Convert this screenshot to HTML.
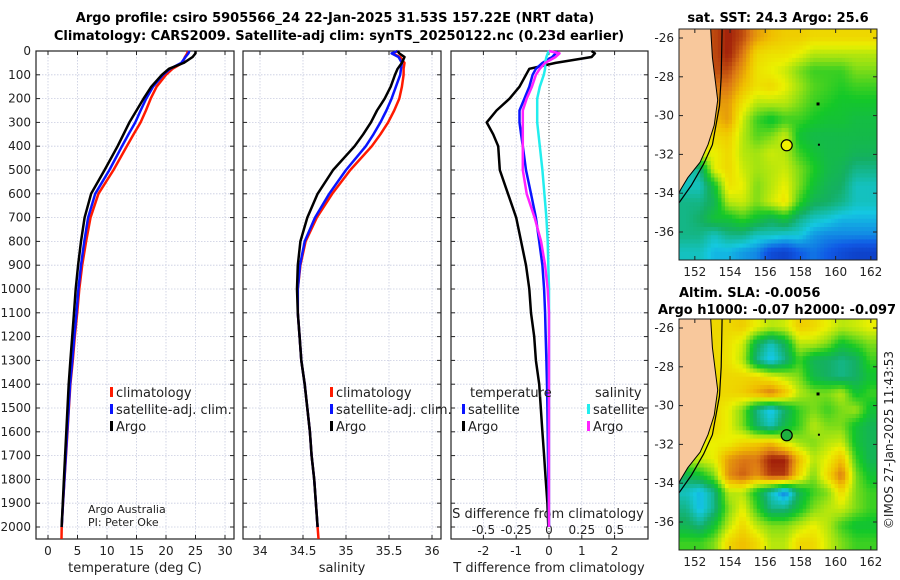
<!DOCTYPE html>
<html><head><meta charset="utf-8"><style>
html,body{margin:0;padding:0;background:#fff;}
svg{display:block;font-family:"DejaVu Sans","Liberation Sans",sans-serif;}
</style></head><body>
<svg id="fig" width="900" height="580" viewBox="0 0 900 580" xmlns="http://www.w3.org/2000/svg">
<text x="335" y="22" font-size="13" font-weight="bold" text-anchor="middle">Argo profile: csiro 5905566_24 22-Jan-2025 31.53S 157.22E (NRT data)</text>
<text x="339" y="40" font-size="13" font-weight="bold" text-anchor="middle">Climatology: CARS2009. Satellite-adj clim: synTS_20250122.nc (0.23d earlier)</text>
<text x="778" y="22" font-size="13" font-weight="bold" text-anchor="middle">sat. SST: 24.3 Argo: 25.6</text>
<text x="679" y="297" font-size="13" font-weight="bold">Altim. SLA: -0.0056</text>
<text x="658" y="314" font-size="13" font-weight="bold">Argo h1000: -0.07 h2000: -0.097</text>
<text transform="translate(893,440) rotate(-90)" font-size="12" text-anchor="middle" fill="#222">©IMOS 27-Jan-2025 11:43:53</text>
<g id="layer"></g>
</svg>
<script>
// ---------- profile data ----------
const depths = [0,10,25,50,75,100,150,200,250,300,350,400,500,600,700,800,900,1000,1100,1200,1300,1400,1500,1600,1700,1800,1900,2000];
const climDepths = [0,10,25,50,75,100,150,200,250,300,350,400,500,600,700,800,900,1000,1100,1200,1300,1400,1500,1600,1700,1800,1900,2000,2050];
const argoT = [25.0,25.0,24.5,23.0,20.5,19.3,17.5,16.2,15.0,13.8,12.8,11.8,9.6,7.3,6.2,5.6,5.1,4.7,4.4,4.1,3.8,3.5,3.3,3.1,2.9,2.7,2.5,2.3];
const climT = [23.7,23.6,23.2,22.8,21.1,20.0,18.4,17.4,16.6,15.7,14.5,13.35,11.1,8.55,7.2,6.45,5.8,5.3,4.95,4.55,4.2,3.8,3.55,3.3,3.05,2.8,2.55,2.32,2.28];
const satT = [23.95,23.8,23.3,22.6,20.7,19.5,17.8,16.65,15.7,14.8,13.65,12.55,10.4,8.0,6.8,6.15,5.6,5.15,4.83,4.45,4.12,3.74,3.5,3.26,3.02,2.78,2.54,2.32];
const argoS = [35.6,35.62,35.68,35.65,35.6,35.57,35.52,35.45,35.36,35.29,35.2,35.1,34.85,34.67,34.55,34.47,34.44,34.43,34.44,34.46,34.48,34.52,34.55,34.58,34.6,34.63,34.65,34.67];
const climS = [35.6,35.54,35.63,35.68,35.67,35.67,35.65,35.62,35.56,35.49,35.4,35.3,35.05,34.84,34.66,34.53,34.47,34.44,34.44,34.46,34.48,34.52,34.55,34.58,34.6,34.63,34.65,34.67,34.68];
const satS = [35.6,35.53,35.61,35.65,35.64,35.63,35.58,35.53,35.47,35.4,35.32,35.23,35.0,34.805,34.64,34.52,34.465,34.44,34.44,34.46,34.48,34.52,34.55,34.58,34.6,34.63,34.65,34.67];
const depthTicks = [0,100,200,300,400,500,600,700,800,900,1000,1100,1200,1300,1400,1500,1600,1700,1800,1900,2000];
const tTicks = [0,5,10,15,20,25,30];
const sTicks = [34,34.5,35,35.5,36];
const sTickLabels = ["34","34.5","35","35.5","36"];
const dTTicks = [-2,-1,0,1,2];
const dSTicks = [-0.5,-0.25,0,0.25,0.5];
const dSTickLabels = ["-0.5","-0.25","0","0.25","0.5"];

// ---------- map data (0..1 colour index) ----------
const sstGrid = [
[0.9,0.9,0.9,0.95,0.9,0.8,0.75,0.72,0.72,0.7,0.7,0.7,0.7,0.7],
[0.9,0.9,0.9,0.95,0.85,0.7,0.68,0.68,0.65,0.6,0.6,0.6,0.6,0.6],
[0.9,0.9,0.9,0.9,0.8,0.68,0.65,0.62,0.55,0.5,0.5,0.5,0.55,0.55],
[0.85,0.85,0.85,0.85,0.75,0.68,0.7,0.65,0.58,0.52,0.5,0.48,0.5,0.5],
[0.8,0.8,0.8,0.8,0.68,0.6,0.6,0.6,0.55,0.5,0.48,0.46,0.46,0.46],
[0.75,0.75,0.75,0.8,0.62,0.5,0.45,0.5,0.5,0.47,0.45,0.45,0.43,0.43],
[0.7,0.7,0.7,0.72,0.6,0.52,0.55,0.62,0.45,0.42,0.42,0.42,0.42,0.42],
[0.65,0.65,0.65,0.7,0.6,0.58,0.62,0.6,0.5,0.45,0.42,0.42,0.4,0.4],
[0.3,0.35,0.65,0.7,0.62,0.58,0.6,0.62,0.55,0.48,0.42,0.4,0.35,0.35],
[0.3,0.3,0.45,0.68,0.65,0.55,0.6,0.65,0.55,0.45,0.4,0.38,0.3,0.3],
[0.35,0.35,0.4,0.6,0.62,0.55,0.62,0.68,0.5,0.4,0.38,0.35,0.3,0.3],
[0.35,0.38,0.45,0.45,0.5,0.45,0.4,0.45,0.35,0.3,0.28,0.25,0.25,0.25],
[0.35,0.35,0.3,0.35,0.35,0.3,0.3,0.28,0.28,0.22,0.2,0.2,0.2,0.2],
[0.3,0.3,0.25,0.25,0.22,0.2,0.12,0.1,0.15,0.18,0.15,0.12,0.1,0.1]];
const slaGrid = [
[.7,.7,.7,.7,.72,.65,.6,.62,.72,.7,.65,.6,.62,.65],
[.7,.7,.7,.68,.62,.4,.3,.4,.6,.6,.55,.45,.5,.55],
[.7,.7,.7,.68,.6,.35,.25,.35,.5,.4,.38,.35,.38,.5],
[.7,.7,.7,.7,.7,.7,.65,.6,.55,.42,.38,.35,.38,.45],
[.7,.7,.7,.7,.72,.78,.85,.75,.6,.55,.55,.6,.45,.5],
[.7,.7,.7,.65,.55,.35,.25,.38,.5,.55,.5,.55,.58,.45],
[.7,.7,.7,.65,.55,.38,.3,.42,.5,.6,.55,.55,.45,.4],
[.65,.65,.65,.65,.7,.72,.75,.65,.58,.55,.6,.62,.45,.4],
[.6,.62,.65,.8,.85,.85,.95,.95,.75,.6,.65,.75,.5,.4],
[.4,.45,.55,.82,.88,.82,.92,.92,.7,.55,.7,.85,.55,.45],
[.3,.25,.35,.6,.6,.45,.3,.18,.4,.5,.55,.7,.55,.5],
[.35,.25,.35,.55,.65,.5,.35,.35,.45,.55,.6,.62,.55,.5],
[.4,.35,.45,.6,.7,.6,.55,.55,.6,.65,.6,.5,.45,.45],
[.5,.5,.55,.7,.75,.7,.6,.6,.7,.7,.62,.55,.5,.5]];
const coastLon = [151.1,152.9,153.0,153.3,153.1,152.75,152.3,151.6,151.2,151.1];
const coastLat = [-25.5,-25.5,-27,-29.2,-30.5,-31.5,-32.4,-33.2,-33.8,-34.0];
const isoLon = [153.55,153.5,153.4,153.0,152.5,151.8,151.1];
const isoLat = [-25.5,-28,-29.5,-31.5,-32.5,-33.6,-34.5];
const argoLon = 157.22, argoLat = -31.53;
const lonTicks = [152,154,156,158,160,162];
const latTicks = [-26,-28,-30,-32,-34,-36];

const NS = "http://www.w3.org/2000/svg";
const layer = document.getElementById('layer');
function mk(tag, attrs, parent){
  const e = document.createElementNS(NS, tag);
  for (const k in attrs) e.setAttribute(k, attrs[k]);
  (parent||layer).appendChild(e);
  return e;
}
function txt(x,y,s,size,anchor,parent){
  const t = mk('text',{x:x,y:y,'font-size':size,'text-anchor':anchor||'middle',fill:'#222'},parent);
  t.textContent = s;
  return t;
}

// ---------- profile axes ----------
const Y0 = 51, YB = 539;
const yD = d => Y0 + 0.238*d;
const xT = v => 48 + 5.9*v;
const xS = v => 260 + 86*(v-34);
const xdT = v => 549 + 32.8*v;
const xdS = v => 549 + 131.2*v;
const panels = [{x0:36,x1:234,name:'temperature-panel'},{x0:243,x1:441,name:'salinity-panel'},{x0:451,x1:648,name:'difference-panel'}];

panels.forEach((p,i)=>{
  const g = mk('g',{});
  
  
  depthTicks.forEach(d=>{
    const l = mk('line',{x1:p.x0,x2:p.x1,y1:yD(d),y2:yD(d),stroke:'#c8cce0','stroke-width':0.8,'stroke-dasharray':'1.5,1.5'},g);
    
    
    mk('line',{x1:p.x0,x2:p.x0+4,y1:yD(d),y2:yD(d),stroke:'#222'},g);
    mk('line',{x1:p.x1,x2:p.x1-4,y1:yD(d),y2:yD(d),stroke:'#222'},g);
  });
  let xs = i===0 ? tTicks.map(xT) : i===1 ? sTicks.map(xS) : dTTicks.map(xdT);
  xs.forEach(x=>{
    const l = mk('line',{x1:x,x2:x,y1:Y0,y2:YB,stroke:'#c8cce0','stroke-width':0.8,'stroke-dasharray':'1.5,1.5'},g);
    
    
    mk('line',{x1:x,x2:x,y1:YB,y2:YB-4,stroke:'#222'},g);
    mk('line',{x1:x,x2:x,y1:Y0,y2:Y0+4,stroke:'#222'},g);
  });
  const r = mk('rect',{x:p.x0,y:Y0,width:p.x1-p.x0,height:YB-Y0,fill:'none',stroke:'#222','stroke-width':1.2},g);
  
  
});

depthTicks.forEach(d=>{
  const t = txt(31, yD(d)+4, String(d), 12, 'end');
  
  
});
tTicks.forEach(v=>{
  const t = txt(xT(v), 555, String(v), 12);
  
  
});
sTicks.forEach((v,i)=>{
  const t = txt(xS(v), 555, sTickLabels[i], 12);
  
  
});
dTTicks.forEach(v=>{
  const t = txt(xdT(v), 555, String(v), 12);
  
  
});
dSTicks.forEach((v,i)=>{
  const t = txt(xdS(v), 534, dSTickLabels[i], 12);
  
  
});
let at;
at = txt(135, 572, 'temperature (deg C)', 13);


at = txt(342, 572, 'salinity', 13);


at = txt(549, 572, 'T difference from climatology', 13);


at = txt(548, 518, 'S difference from climatology', 13);


at = txt(88, 513, 'Argo Australia', 11, 'start');


at = txt(88, 526, 'PI: Peter Oke', 11, 'start');



const zl = mk('line',{x1:xdT(0),x2:xdT(0),y1:Y0,y2:YB,stroke:'#555','stroke-dasharray':'1,2'});



function series(xf, vals, dep, color, w, name){
  const pts = vals.map((v,i)=>xf(v).toFixed(1)+','+yD(dep[i]).toFixed(1)).join(' ');
  const pl = mk('polyline',{points:pts,fill:'none',stroke:color,'stroke-width':w,'stroke-linejoin':'round'});
  
  
}
series(xT, climT, climDepths, '#ff1a00', 2.5, 'temperature-climatology-line');
series(xT, satT, depths, '#0a14ff', 2.5, 'temperature-satellite-line');
series(xT, argoT, depths, '#000', 2.5, 'temperature-argo-line');
series(xS, climS, climDepths, '#ff1a00', 2.5, 'salinity-climatology-line');
series(xS, satS, depths, '#0a14ff', 2.5, 'salinity-satellite-line');
series(xS, argoS, depths, '#000', 2.5, 'salinity-argo-line');
series(xdT, argoT.map((v,i)=>v-climT[i]), depths, '#000', 2.5, 't-diff-argo-line');
series(xdT, satT.map((v,i)=>v-climT[i]), depths, '#0a14ff', 2.5, 't-diff-satellite-line');
series(xdS, satS.map((v,i)=>v-climS[i]), depths, '#22eeee', 2.5, 's-diff-satellite-line');
series(xdS, argoS.map((v,i)=>v-climS[i]), depths, '#ff22ff', 2.5, 's-diff-argo-line');

function legEntry(x,y,color,label,name){
  const g = mk('g',{});
  
  
  mk('rect',{x:x,y:y-10,width:3,height:10,fill:color},g);
  txt(x+6,y,label,13,'start',g);
}
legEntry(110,397,'#ff1a00','climatology','legend-entry-climatology');
legEntry(110,414,'#0a14ff','satellite-adj. clim.','legend-entry-satellite-adj');
legEntry(110,431,'#000','Argo','legend-entry-argo');
legEntry(330,397,'#ff1a00','climatology','legend-entry-climatology-s');
legEntry(330,414,'#0a14ff','satellite-adj. clim.','legend-entry-satellite-adj-s');
legEntry(330,431,'#000','Argo','legend-entry-argo-s');
at = txt(470,397,'temperature',13,'start');


at = txt(595,397,'salinity',13,'start');


legEntry(462,414,'#0a14ff','satellite','legend-entry-t-satellite');
legEntry(462,431,'#000','Argo','legend-entry-t-argo');
legEntry(587,414,'#22eeee','satellite','legend-entry-s-satellite');
legEntry(587,431,'#ff22ff','Argo','legend-entry-s-argo');

// ---------- maps ----------
const stops = [[0,[10,20,150]],[0.15,[16,90,230]],[0.27,[20,200,225]],[0.38,[20,175,100]],[0.47,[20,200,40]],[0.57,[150,225,20]],[0.65,[235,240,0]],[0.75,[240,190,0]],[0.85,[220,120,20]],[0.95,[160,30,10]],[1,[140,20,10]]];
function cmap(v){
  v = Math.max(0,Math.min(1,v));
  for (let i=1;i<stops.length;i++){
    if (v<=stops[i][0]){
      const a=stops[i-1], b=stops[i], f=(v-a[0])/(b[0]-a[0]);
      const c=a[1].map((q,k)=>Math.round(q+(b[1][k]-q)*f));
      return 'rgb('+c.join(',')+')';
    }
  }
  return 'rgb(140,20,10)';
}
const MX0=679, MX1=877;
const lonX = lon => MX0 + (lon-151.1)*17.6;
function drawMap(grid, top, bottom, yLat26, name, markerColor){
  const latY = lat => yLat26 + (-26-lat)*19.4;
  const g = mk('g',{});
  
  
  const R = grid.length, C = grid[0].length, up = 4;
  const W = (MX1-MX0)/(C*up), H = (bottom-top)/(R*up);
  for (let r=0;r<R*up;r++){
    const fr = Math.max(0,Math.min(R-1,(r+0.5)/up-0.5));
    const r0 = Math.floor(fr), r1 = Math.min(R-1,r0+1), tr = fr-r0;
    for (let c=0;c<C*up;c++){
      const fc = Math.max(0,Math.min(C-1,(c+0.5)/up-0.5));
      const c0 = Math.floor(fc), c1 = Math.min(C-1,c0+1), tc = fc-c0;
      const v = (grid[r0][c0]*(1-tc)+grid[r0][c1]*tc)*(1-tr)+(grid[r1][c0]*(1-tc)+grid[r1][c1]*tc)*tr;
      const cell = mk('rect',{x:(MX0+c*W).toFixed(2),y:(top+r*H).toFixed(2),width:(W+0.4).toFixed(2),height:(H+0.4).toFixed(2),fill:cmap(v)},g);
      
      
    }
  }
  const clip = v => Math.max(top, Math.min(bottom, v));
  const land = coastLon.map((lo,i)=>lonX(lo).toFixed(1)+','+clip(latY(coastLat[i])).toFixed(1)).join(' ');
  const lp = mk('polygon',{points:land,fill:'#f8c89c',stroke:'#000','stroke-width':1},g);
  
  
  const iso = mk('polyline',{points:isoLon.map((lo,i)=>lonX(lo).toFixed(1)+','+clip(latY(isoLat[i])).toFixed(1)).join(' '),fill:'none',stroke:'#000','stroke-width':1.2},g);
  
  
  mk('rect',{x:lonX(159)-1.5,y:latY(-29.4)-1.5,width:3,height:3,fill:'#000'},g);
  mk('rect',{x:lonX(159.05)-1,y:latY(-31.5)-1,width:2,height:2,fill:'#000'},g);
  const m = mk('circle',{cx:lonX(argoLon),cy:latY(argoLat),r:5.5,fill:markerColor,stroke:'#000','stroke-width':1.2},g);
  
  
  const fr = mk('rect',{x:MX0,y:top,width:MX1-MX0,height:bottom-top,fill:'none',stroke:'#222','stroke-width':1},g);
  
  
  lonTicks.forEach(lo=>{
    mk('line',{x1:lonX(lo),x2:lonX(lo),y1:bottom,y2:bottom-4,stroke:'#222'},g);
    mk('line',{x1:lonX(lo),x2:lonX(lo),y1:top,y2:top+4,stroke:'#222'},g);
    const t = txt(lonX(lo), bottom+16, String(lo), 12, 'middle', g);
    
    
  });
  latTicks.forEach(la=>{
    mk('line',{x1:MX0,x2:MX0+4,y1:latY(la),y2:latY(la),stroke:'#222'},g);
    mk('line',{x1:MX1,x2:MX1-4,y1:latY(la),y2:latY(la),stroke:'#222'},g);
    const t = txt(MX0-5, latY(la)+4, String(la), 12, 'end', g);
    
    
  });
}
drawMap(sstGrid, 29, 260, 38, 'sst-map', '#f0f000');
drawMap(slaGrid, 319, 550, 328, 'sla-map', '#20b040');
</script>
</body></html>
